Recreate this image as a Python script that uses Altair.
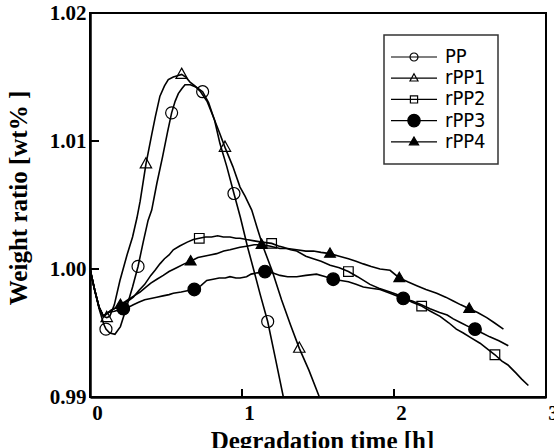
import altair as alt
import pandas as pd

# ---- measured traces: degradation time [h] vs weight ratio ----
pp_t = [0, 0.03, 0.06, 0.09, 0.105, 0.13, 0.164, 0.20, 0.24, 0.28, 0.316, 0.35, 0.382, 0.406,
        0.44, 0.478, 0.51, 0.537, 0.56, 0.581, 0.605, 0.625, 0.66, 0.70, 0.741, 0.78, 0.82,
        0.855, 0.90, 0.947, 0.99, 1.037, 1.08, 1.12, 1.169, 1.22, 1.272]
pp_w = [1.0000, 0.9984, 0.9969, 0.9957, 0.9953, 0.9950, 0.9949, 0.9955, 0.9970, 0.9986, 1.0002,
        1.0021, 1.0038, 1.0046, 1.0067, 1.0088, 1.0107, 1.0122, 1.0131, 1.0137, 1.0141, 1.0144,
        1.0144, 1.0142, 1.01385, 1.0130, 1.0116, 1.0098, 1.0080, 1.0059, 1.0040, 1.0017, 0.9998,
        0.9980, 0.9959, 0.9930, 0.9900]

rpp1_t = [0, 0.03, 0.06, 0.09, 0.11, 0.13, 0.16, 0.197, 0.246, 0.28, 0.309, 0.33, 0.368, 0.406,
          0.43, 0.46, 0.49, 0.515, 0.548, 0.575, 0.603, 0.63, 0.658, 0.69, 0.724, 0.77, 0.811,
          0.85, 0.888, 0.94, 0.987, 1.02, 1.064, 1.10, 1.14, 1.20, 1.26, 1.32, 1.377, 1.44, 1.509]
rpp1_w = [1.0000, 0.9984, 0.9970, 0.9963, 0.9962, 0.9963, 0.9972, 0.9991, 1.0012, 1.0025, 1.0040,
          1.0053, 1.0082, 1.0105, 1.0119, 1.0135, 1.0143, 1.0148, 1.0150, 1.0151, 1.0152, 1.0150,
          1.0146, 1.0143, 1.0139, 1.0131, 1.0119, 1.0107, 1.0095, 1.0080, 1.0064, 1.0057, 1.0046,
          1.0032, 1.0017, 0.9998, 0.9976, 0.9956, 0.9938, 0.9921, 0.9900]

rpp2_t = [0, 0.03, 0.06, 0.088, 0.11, 0.14, 0.18, 0.22, 0.25, 0.285, 0.32, 0.36, 0.40, 0.428,
          0.46, 0.49, 0.52, 0.548, 0.59, 0.64, 0.68, 0.719, 0.76, 0.80, 0.84, 0.877, 0.921, 0.96,
          0.987, 1.03, 1.08, 1.13, 1.195, 1.24, 1.272, 1.32, 1.36, 1.42, 1.469, 1.52, 1.58, 1.64,
          1.70, 1.76, 1.842, 1.90, 1.974, 2.02, 2.07, 2.12, 2.182, 2.24, 2.303, 2.36, 2.41, 2.456,
          2.51, 2.566, 2.62, 2.664, 2.71, 2.75, 2.80, 2.84, 2.884]
rpp2_w = [1.0000, 0.9984, 0.9970, 0.9963, 0.9965, 0.9968, 0.9970, 0.9973, 0.9975, 0.9978, 0.9983,
          0.9988, 0.9995, 0.9999, 1.0004, 1.0008, 1.0011, 1.0015, 1.0018, 1.0021, 1.0023, 1.0024,
          1.0025, 1.0025, 1.0026, 1.0025, 1.0025, 1.0024, 1.0024, 1.0023, 1.0022, 1.0021, 1.0020,
          1.0018, 1.0017, 1.0015, 1.0014, 1.0010, 1.0008, 1.0006, 1.0003, 1.0001, 0.9998, 0.9994,
          0.9988, 0.9985, 0.9982, 0.9980, 0.9977, 0.9974, 0.9971, 0.9967, 0.9963, 0.9958, 0.9953,
          0.9950, 0.9946, 0.9942, 0.9937, 0.9933, 0.9928, 0.9925, 0.9919, 0.9914, 0.9909]

rpp3_t = [0, 0.03, 0.06, 0.088, 0.12, 0.16, 0.19, 0.219, 0.25, 0.285, 0.32, 0.36, 0.40, 0.439,
          0.48, 0.52, 0.548, 0.60, 0.64, 0.686, 0.73, 0.768, 0.81, 0.85, 0.89, 0.921, 0.96, 0.987,
          1.03, 1.06, 1.10, 1.151, 1.20, 1.25, 1.30, 1.36, 1.42, 1.49, 1.55, 1.60, 1.65, 1.70,
          1.75, 1.798, 1.85, 1.908, 1.974, 2.02, 2.061, 2.12, 2.18, 2.237, 2.30, 2.35, 2.39, 2.44,
          2.49, 2.533, 2.58, 2.63, 2.69, 2.752]
rpp3_w = [1.0000, 0.9984, 0.9970, 0.9963, 0.9966, 0.9967, 0.9968, 0.9969, 0.9970, 0.9972, 0.9974,
          0.9976, 0.9977, 0.9978, 0.9979, 0.9980, 0.9981, 0.9982, 0.9983, 0.9984, 0.9987, 0.9991,
          0.9992, 0.9993, 0.9993, 0.9994, 0.9993, 0.9993, 0.9994, 0.9996, 0.9997, 0.9998, 0.9997,
          0.9995, 0.9994, 0.9994, 0.9995, 0.9996, 0.9994, 0.9992, 0.9991, 0.9990, 0.9988, 0.9986,
          0.9985, 0.9984, 0.9981, 0.9979, 0.9977, 0.9975, 0.9972, 0.9969, 0.9966, 0.9964, 0.9961,
          0.9958, 0.9955, 0.9953, 0.9950, 0.9947, 0.9944, 0.9940]

rpp4_t = [0, 0.03, 0.06, 0.088, 0.12, 0.16, 0.2, 0.25, 0.29, 0.329, 0.37, 0.40, 0.44, 0.482,
          0.52, 0.57, 0.62, 0.662, 0.71, 0.75, 0.79, 0.833, 0.88, 0.921, 0.987, 1.04, 1.08, 1.129,
          1.18, 1.25, 1.30, 1.36, 1.42, 1.47, 1.52, 1.579, 1.64, 1.70, 1.75, 1.798, 1.85, 1.908,
          1.974, 2.035, 2.09, 2.15, 2.21, 2.281, 2.34, 2.39, 2.44, 2.495, 2.55, 2.61, 2.66, 2.72]
rpp4_w = [1.0000, 0.9984, 0.9970, 0.9963, 0.9966, 0.9969, 0.9972, 0.9976, 0.9979, 0.9982, 0.9986,
          0.9989, 0.9992, 0.9995, 0.9998, 1.0001, 1.0004, 1.0006, 1.0009, 1.0010, 1.0011, 1.0012,
          1.0014, 1.0015, 1.0017, 1.0018, 1.0019, 1.0019, 1.0018, 1.0016, 1.0016, 1.0015, 1.0014,
          1.0014, 1.0013, 1.0012, 1.0010, 1.0008, 1.0006, 1.0004, 1.0002, 1.0000, 0.9999, 0.9993,
          0.9990, 0.9987, 0.9984, 0.9981, 0.9978, 0.9975, 0.9972, 0.9969, 0.9966, 0.9962, 0.9958,
          0.9953]

# ---- symbol positions on each trace ----
pp_mt = [0.105, 0.316, 0.537, 0.741, 0.947, 1.169]
pp_mw = [0.9953, 1.0002, 1.0122, 1.01385, 1.0059, 0.9959]
rpp1_mt = [0.11, 0.368, 0.603, 0.888, 1.377]
rpp1_mw = [0.9962, 1.0082, 1.0152, 1.0095, 0.9938]
rpp2_mt = [0.719, 1.195, 1.70, 2.182, 2.664]
rpp2_mw = [1.0024, 1.0020, 0.9998, 0.9971, 0.9933]
rpp3_mt = [0.219, 0.686, 1.151, 1.60, 2.061, 2.533]
rpp3_mw = [0.9969, 0.9984, 0.9998, 0.9992, 0.9977, 0.9953]
rpp4_mt = [0.2, 0.662, 1.129, 1.579, 2.035, 2.495]
rpp4_mw = [0.9972, 1.0006, 1.0019, 1.0012, 0.9993, 0.9969]

names = ["PP", "rPP1", "rPP2", "rPP3", "rPP4"]
x_labels = [0, 1, 2, 3]
y_labels = [0.99, 1.00, 1.01, 1.02]
x_inner_ticks = [1, 2]
y_inner_ticks = [1.00, 1.01]

traces = [(pp_t, pp_w), (rpp1_t, rpp1_w), (rpp2_t, rpp2_w), (rpp3_t, rpp3_w), (rpp4_t, rpp4_w)]
marks = [(pp_mt, pp_mw), (rpp1_mt, rpp1_mw), (rpp2_mt, rpp2_mw), (rpp3_mt, rpp3_mw), (rpp4_mt, rpp4_mw)]

lines_df = pd.concat(
    [pd.DataFrame({"t": t, "w": w, "series": n}) for n, (t, w) in zip(names, traces)],
    ignore_index=True)
marks_df = pd.concat(
    [pd.DataFrame({"t": t, "w": w, "series": n}) for n, (t, w) in zip(names, marks)],
    ignore_index=True)

W, H = 456, 384
x_scale = alt.Scale(domain=[0, 3], nice=False, zero=False)
y_scale = alt.Scale(domain=[0.99, 1.02], nice=False, zero=False)

x_axis = alt.Axis(values=x_labels, format="d", title="Degradation time [h]",
                  tickSize=0, tickOffset=7, grid=False, labelPadding=5,
                  labelFlush=False, labelOverlap=False,
                  titleX=232, titleY=51, titleBaseline="alphabetic", titleAlign="center")
y_axis = alt.Axis(values=y_labels, format=".2f", title="Weight ratio [wt% ]",
                  tickSize=0, grid=False, labelPadding=4, labelFlush=False,
                  labelOverlap=False, titleX=-64, titleY=184.5, titleAngle=270,
                  titleBaseline="alphabetic", titleAlign="center")

# plot symbols (unit paths, scaled by the mark size)
marker_paths = [
    "M-1,0A1,1 0 1,0 1,0A1,1 0 1,0 -1,0Z",
    "M0,-1.05L0.95,0.65L-0.95,0.65Z",
    "M-0.8,-0.8L0.8,-0.8L0.8,0.8L-0.8,0.8Z",
    "M-1.05,0A1.05,1.05 0 1,0 1.05,0A1.05,1.05 0 1,0 -1.05,0Z",
    "M0,-0.95L0.9,0.6L-0.9,0.6Z",
]
# legend keys: line segment with the symbol in the middle (pixel units at size 4)
key_paths = [
    "M-23,0L23,0M-4,0A4,4 0 1,0 4,0A4,4 0 1,0 -4,0Z",
    "M-23,0L23,0M0,-4.5L4,2.8L-4,2.8Z",
    "M-23,0L23,0M-3.6,-3.6L3.6,-3.6L3.6,3.6L-3.6,3.6Z",
    "M-23,0L23,0M-6.2,0A6.2,6.2 0 1,0 6.2,0A6.2,6.2 0 1,0 -6.2,0Z",
    "M-23,0L23,0M0,-4.8L4.6,3L-4.6,3Z",
]
fills = ["transparent", "transparent", "transparent", "black", "black"]

curves = alt.Chart(lines_df).mark_line(color="black", strokeWidth=1.6, clip=True).encode(
    x=alt.X("t:Q", scale=x_scale, axis=x_axis),
    y=alt.Y("w:Q", scale=y_scale, axis=y_axis),
    detail="series:N",
)

symbols = alt.Chart(marks_df).mark_point(
    color="black", opacity=1, strokeWidth=1.2, size=144, clip=True
).encode(
    x=alt.X("t:Q", scale=x_scale, axis=x_axis),
    y=alt.Y("w:Q", scale=y_scale, axis=y_axis),
    shape=alt.Shape("series:N", scale=alt.Scale(domain=names, range=marker_paths), legend=None),
    fill=alt.Fill("series:N", scale=alt.Scale(domain=names, range=fills), legend=None),
)

legend_props = dict(title=None, orient="none", legendX=294, legendY=22, padding=12,
                    symbolOffset=8, labelOffset=21, rowPadding=1.2, symbolSize=4,
                    strokeColor="#333333", symbolStrokeWidth=1.2,
                    labelExpr="datum.label + '   '")
key = alt.Chart(marks_df).transform_filter("false").mark_point(
    color="black", opacity=1, strokeWidth=1.2, clip=True
).encode(
    x=alt.X("t:Q", scale=x_scale, axis=x_axis),
    y=alt.Y("w:Q", scale=y_scale, axis=y_axis),
    shape=alt.Shape("series:N", scale=alt.Scale(domain=names, range=key_paths),
                    legend=alt.Legend(**legend_props)),
    fill=alt.Fill("series:N", scale=alt.Scale(domain=names, range=fills),
                  legend=alt.Legend(**legend_props)),
)

y_ticks = alt.Chart(pd.DataFrame({"v": y_inner_ticks})).mark_rule(
    color="black", strokeWidth=2).encode(
    y=alt.Y("v:Q", scale=y_scale, axis=y_axis), x=alt.value(0), x2=alt.value(9))
x_ticks = alt.Chart(pd.DataFrame({"v": x_inner_ticks})).mark_rule(
    color="black", strokeWidth=2).encode(
    x=alt.X("v:Q", scale=x_scale, axis=x_axis), y=alt.value(H), y2=alt.value(H - 8))

chart = alt.layer(curves, symbols, key, y_ticks, x_ticks).resolve_scale(
    shape="independent", fill="independent"
).properties(
    width=W, height=H,
    padding={"left": 90, "top": 13, "right": 8, "bottom": 51},
    autosize=alt.AutoSizeParams(type="none"),
    background="white",
).configure_view(
    stroke="black", strokeWidth=2
).configure_axis(
    domain=True, domainColor="black", domainWidth=2.5,
    labelFont="Liberation Serif", labelFontWeight="bold", labelFontSize=21, labelColor="black",
    titleFont="Liberation Serif", titleFontWeight="bold", titleFontSize=25, titleColor="black",
).configure_legend(
    labelFont="DejaVu Sans Condensed, DejaVu Sans", labelFontSize=20, labelColor="black",
    strokeWidth=1.5,
)

chart.save("out.html", embed_options={"renderer": "svg", "actions": False})
